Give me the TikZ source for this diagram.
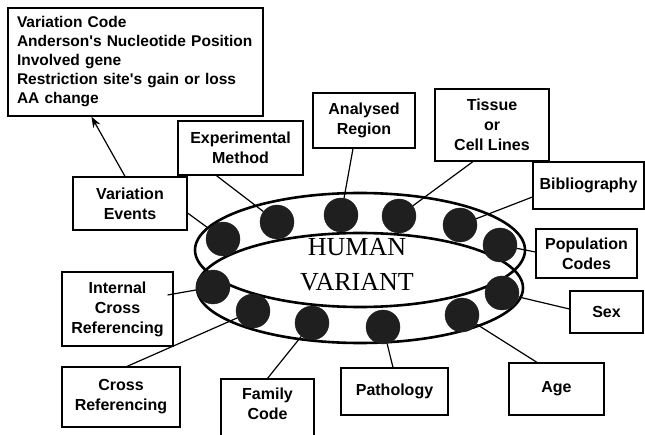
\documentclass[tikz,border=0pt]{standalone}
\usepackage{fontspec}
\newfontfamily\lsans{Liberation Sans}
\newfontfamily\lserif{Liberation Serif}
\usetikzlibrary{arrows.meta}
\begin{document}
\begin{tikzpicture}[x=1pt,y=-1pt,
  box/.style={draw, line width=1.2pt, align=center, inner sep=0pt,
    font=\lsans\bfseries\fontsize{16}{20}\selectfont},
  conn/.style={line width=1.2pt},
  ring/.style={line width=2.6pt},
  dot/.style={circle, fill=black!88, draw=black!88, minimum size=34pt, inner sep=0pt}]
\useasboundingbox (0,0) rectangle (645,435);
\clip (0,0) rectangle (645,435);

% boxes
\node[box, minimum width=255pt, minimum height=108pt, text width=237pt, align=left,
  font=\lsans\bfseries\fontsize{15.5}{19}\selectfont] (top) at (135.5,62)
  {Variation Code\\Anderson's Nucleotide Position\\Involved gene\\Restriction site's gain or loss\\AA change};
\node[box, minimum width=114pt, minimum height=53pt] (ve) at (130,203.5) {Variation\\Events};
\node[box, minimum width=125pt, minimum height=54pt] (em) at (240.5,148) {Experimental\\Method};
\node[box, minimum width=102pt, minimum height=55pt] (ar) at (364,120.5) {Analysed\\Region};
\node[box, minimum width=114pt, minimum height=72pt] (tc) at (492,125) {Tissue\\or\\Cell Lines};
\node[box, minimum width=111pt, minimum height=47pt] (bi) at (588.5,185.5) {Bibliography};
\node[box, minimum width=101pt, minimum height=49pt] (pc) at (586.5,253.5) {Population\\Codes};
\node[box, minimum width=73pt, minimum height=42pt] (sx) at (606.5,312) {Sex};
\node[box, minimum width=95pt, minimum height=52pt] (ag) at (556.5,389) {Age};
\node[box, minimum width=107pt, minimum height=47pt] (pa) at (394.5,391.5) {Pathology};
\node[box, minimum width=93pt, minimum height=70pt] (fc) at (267.5,414) {Family\\Code\rule[-20pt]{0pt}{0pt}};
\node[box, minimum width=118pt, minimum height=60pt] (cr) at (121,397) {Cross\\Referencing};
\node[box, minimum width=111pt, minimum height=74pt] (ic) at (117.5,309) {Internal\\Cross\\Referencing};

% ring
\draw[ring] (360,250) ellipse [x radius=165, y radius=57];
\draw[ring] (360,288) ellipse [x radius=163, y radius=55];

% centre text
\node[font=\lserif\fontsize{26}{35}\selectfont, align=center] (hv) at (357,265) {HUMAN\\VARIANT};

% dots
\node[dot] (dVE) at (223,239) {};
\node[dot] (dEM) at (277,222) {};
\node[dot] (dAR) at (341,215) {};
\node[dot] (dTC) at (399,216) {};
\node[dot] (dBI) at (460,225) {};
\node[dot] (dPC) at (500,245) {};
\node[dot] (dSX) at (502,293) {};
\node[dot] (dAG) at (462,315) {};
\node[dot] (dPA) at (383,327) {};
\node[dot] (dFC) at (312,323) {};
\node[dot] (dCR) at (253,311) {};
\node[dot] (dIC) at (213,287) {};

% connectors
\draw[conn] ([yshift=-9.5pt]ve.east) -- (dVE);
\draw[conn] ([xshift=39pt]em.south west) -- (dEM);
\draw[conn] ([xshift=-11pt]ar.south) -- (dAR);
\draw[conn] ([xshift=-19pt]tc.south) -- (dTC);
\draw[conn] ([yshift=-11.5pt]bi.west) -- (dBI);
\draw[conn] ([yshift=1.5pt]pc.west) -- (dPC);
\draw[conn] ([yshift=3pt]sx.west) -- (dSX);
\draw[conn] ([xshift=-19.5pt]ag.north) -- (dAG);
\draw[conn] ([xshift=-1.5pt]pa.north) -- (dPA);
\draw[conn] (fc.north) -- (dFC);
\draw[conn] ([xshift=6pt]cr.north) -- (dCR);
\draw[conn] ([xshift=-6pt,yshift=14pt]ic.east) -- (dIC);
\draw[conn, -{Stealth[length=11pt,width=8pt]}] ([xshift=-5pt]ve.north) -- ([xshift=84pt]top.south west);
\end{tikzpicture}
\end{document}
